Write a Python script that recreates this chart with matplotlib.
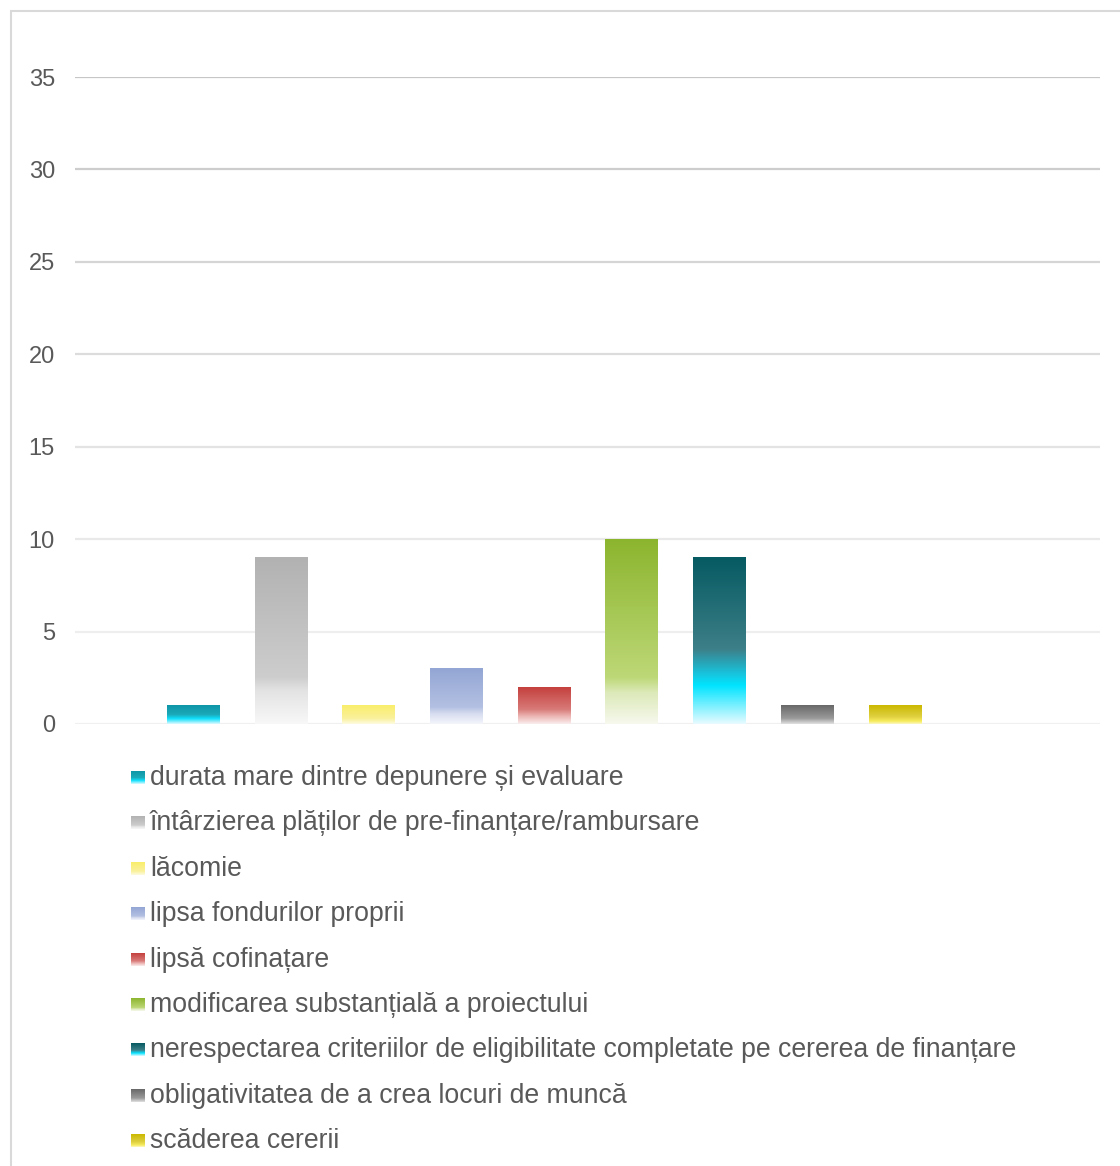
import numpy as np
import matplotlib
matplotlib.use("Agg")
import matplotlib.pyplot as plt
from matplotlib.colors import to_rgb
from matplotlib.patches import Rectangle

plt.rcParams['font.family'] = ['Liberation Sans', 'DejaVu Sans']

categorii = [
    "durata mare dintre depunere și evaluare",
    "întârzierea plăților de pre-finanțare/rambursare",
    "lăcomie",
    "lipsa fondurilor proprii",
    "lipsă cofinațare",
    "modificarea substanțială a proiectului",
    "nerespectarea criteriilor de eligibilitate completate pe cererea de finanțare",
    "obligativitatea de a crea locuri de muncă",
    "scăderea cererii",
]
valori = [1, 9, 1, 3, 2, 10, 9, 1, 1]
y_ticks = [0, 5, 10, 15, 20, 25, 30, 35]

# gradient stops for each bar: (position from top, colour)
gradiente = [
    [(0, "#0E96A7"), (0.5, "#1CA9B8"), (0.72, "#0FE0FD"), (1, "#E2FAFF")],
    [(0, "#B2B2B2"), (0.72, "#CDCDCD"), (0.8, "#E3E3E3"), (1, "#F8F8F8")],
    [(0, "#F9EE6A"), (0.7, "#FAF19C"), (1, "#FDFBE2")],
    [(0, "#93A6D4"), (0.7, "#B3C0E2"), (0.82, "#D8DEF0"), (1, "#F4F6FB")],
    [(0, "#C4403D"), (0.6, "#D87A78"), (0.8, "#EDB8B6"), (1, "#FAEEEE")],
    [(0, "#8CB52E"), (0.75, "#BDD877"), (0.83, "#DCE9B8"), (1, "#F7F9EE")],
    [(0, "#065A62"), (0.55, "#3D7F88"), (0.7, "#18C4DE"), (0.77, "#00E4FF"), (1, "#E8FBFF")],
    [(0, "#686868"), (0.7, "#9A9A9A"), (1, "#E2E2E2")],
    [(0, "#CBB800"), (0.6, "#DECF40"), (0.85, "#F7EC5C"), (1, "#FDF8C8")],
]
text_color = "#595959"


def gradient_img(stops, n=256):
    pos = np.array([s[0] for s in stops])
    cols = np.array([to_rgb(s[1]) for s in stops])
    t = np.linspace(0, 1, n)
    rgb = np.stack([np.interp(t, pos, cols[:, k]) for k in range(3)], axis=1)
    return rgb[:, None, :]


W, H = 1120, 1166
fig = plt.figure(figsize=(W / 100, H / 100), dpi=100)

# outer chart border (right and bottom edges fall outside the image)
fig.patches.append(Rectangle((10.5 / W, -0.1), 1.2, (H - 11.5) / H + 0.1,
                             transform=fig.transFigure, fill=False,
                             edgecolor="#D9D9D9", linewidth=1.5))

ax = fig.add_axes([75 / W, (H - 724) / H, (1100 - 75) / W, (724 - 77) / H])
x = np.arange(len(valori))
bars = ax.bar(x, valori, width=0.595, color="none", zorder=3)
for bar, st in zip(bars, gradiente):
    x0, y0 = bar.get_x(), bar.get_y()
    ax.imshow(gradient_img(st), extent=[x0, x0 + bar.get_width(), y0, y0 + bar.get_height()],
              aspect="auto", origin="upper", zorder=3, interpolation="bilinear")

ax.set_xlim(-1.345, 10.34)
ax.set_ylim(0, 35)
ax.set_yticks(y_ticks)
ax.set_xticks([])
ax.tick_params(axis="y", length=0, pad=14.5, labelsize=17, labelcolor=text_color)
for s in ax.spines.values():
    s.set_visible(False)

grid_cols = ["#F0F0F0", "#EEEEEE", "#E9E9E9", "#E3E3E3", "#DCDCDC", "#D5D5D5", "#CDCDCD", "#C6C6C6"]
for v, c in zip(y_ticks, grid_cols):
    ax.axhline(v, color=c, linewidth=1.6, zorder=1)

# legend drawn in pixel coordinates
lg = fig.add_axes([0, 0, 1, 1], zorder=5)
lg.axis("off")
lg.patch.set_alpha(0)
y0 = 777
step = 45.4
for i, (nume, st) in enumerate(zip(categorii, gradiente)):
    yc = y0 + i * step
    lg.imshow(gradient_img(st), extent=[131, 145, yc + 7, yc - 6], aspect="auto",
              origin="upper", interpolation="bilinear")
    lg.text(150, yc + 1, nume, fontsize=19.2, color=text_color, va="center", ha="left")
lg.set_xlim(0, W)
lg.set_ylim(H, 0)

fig.savefig("out.png", dpi=100)
